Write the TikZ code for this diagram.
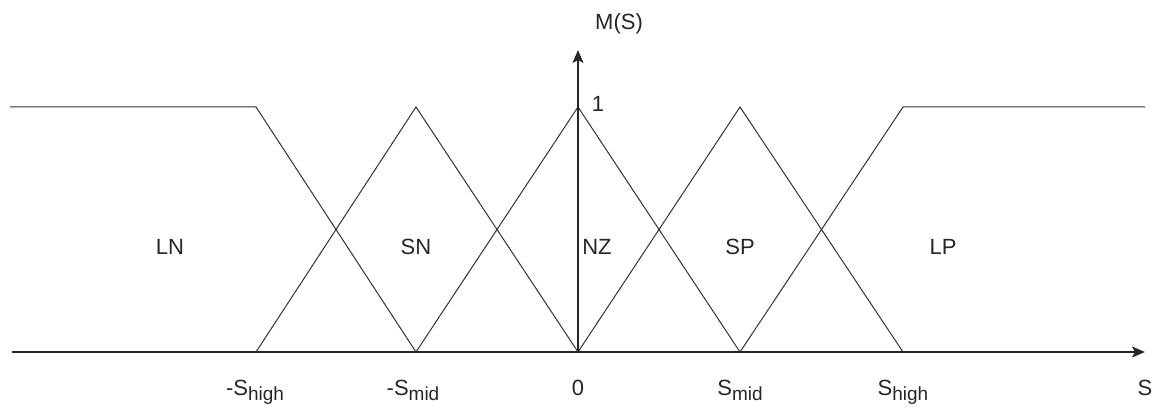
\documentclass[tikz,border=0pt]{standalone}
\usepackage{fontspec}
\setmainfont{Liberation Sans}
\usetikzlibrary{arrows.meta, positioning, calc}

% subscript as the picture sets it: large and lowered
\newcommand{\lowsub}[1]{\raisebox{-5pt}{\fontsize{19}{21}\selectfont #1}}

\begin{document}
\begin{tikzpicture}[x=1pt, y=-1pt]
    % --- Style Definitions ---
    \tikzset{
        axis style/.style={
            draw=black!85,
            line width=1.6pt,
            -{Stealth[length=13pt, width=11pt, inset=3pt]}
        },
        member style/.style={
            draw=black!80,
            line width=1pt
        },
        set label/.style={
            font=\fontsize{22}{24}\selectfont,
            color=black!85,
            anchor=base,
            inner sep=0pt
        },
        tick label/.style={
            font=\fontsize{22}{24}\selectfont,
            color=black!85,
            anchor=base,
            inner sep=0pt
        }
    }

    % Picture frame
    \useasboundingbox (0,0) rectangle (1160,411);

    % Levels (pixel coordinates)
    \def\ybase{352}
    \def\ytop{107}

    % --- 1. Points on the S axis ---
    \coordinate (axisstart) at (12, \ybase);
    \coordinate (axisend)   at (1145, \ybase);
    \coordinate (shighn) at (256, \ybase);
    \coordinate (smidn)  at (416, \ybase);
    \coordinate (zero)   at (578, \ybase);
    \coordinate (smidp)  at (740, \ybase);
    \coordinate (shighp) at (903, \ybase);

    % Peaks of the sets
    \coordinate (lnleft)  at (10, \ytop);
    \coordinate (lntop)   at (256, \ytop);
    \coordinate (sntop)   at (416, \ytop);
    \coordinate (nztop)   at (578, \ytop);
    \coordinate (sptop)   at (740, \ytop);
    \coordinate (lptop)   at (903, \ytop);
    \coordinate (lpright) at (1145, \ytop);
    \coordinate (mtip)    at (578, 50);

    % --- 2. Membership functions ---
    \draw[member style] (lnleft) -- (lntop) -- (smidn);
    \draw[member style] (shighn) -- (sntop) -- (zero);
    \draw[member style] (smidn) -- (nztop) -- (smidp);
    \draw[member style] (zero) -- (sptop) -- (shighp);
    \draw[member style] (smidp) -- (lptop) -- (lpright);

    % --- 3. Axes ---
    \draw[axis style] (axisstart) -- (axisend);
    \draw[axis style] (zero) -- (mtip);

    % --- 4. Axis labels ---
    \node[tick label] (mlabel) at (619, 30) {M(S)};
    \node[tick label] (onelabel) at (598, 112) {1};
    \node[tick label] (slabel) at (1145, 396) {S};

    \node[tick label] (lshigh) at (255, 396) {-S\lowsub{high}};
    \node[tick label] (lsmidn) at (413, 396) {-S\lowsub{mid}};
    \node[tick label] (lzero)  at (578, 396) {0};
    \node[tick label] (lsmidp) at (740, 396) {S\lowsub{mid}};
    \node[tick label] (lshighp) at (903, 396) {S\lowsub{high}};

    % --- 5. Set labels ---
    \node[set label] (ln) at (170, 255) {LN};
    \node[set label] (sn) at (416, 255) {SN};
    \node[set label] (nz) at (597, 255) {NZ};
    \node[set label] (sp) at (740, 255) {SP};
    \node[set label] (lp) at (943, 255) {LP};

\end{tikzpicture}
\end{document}
